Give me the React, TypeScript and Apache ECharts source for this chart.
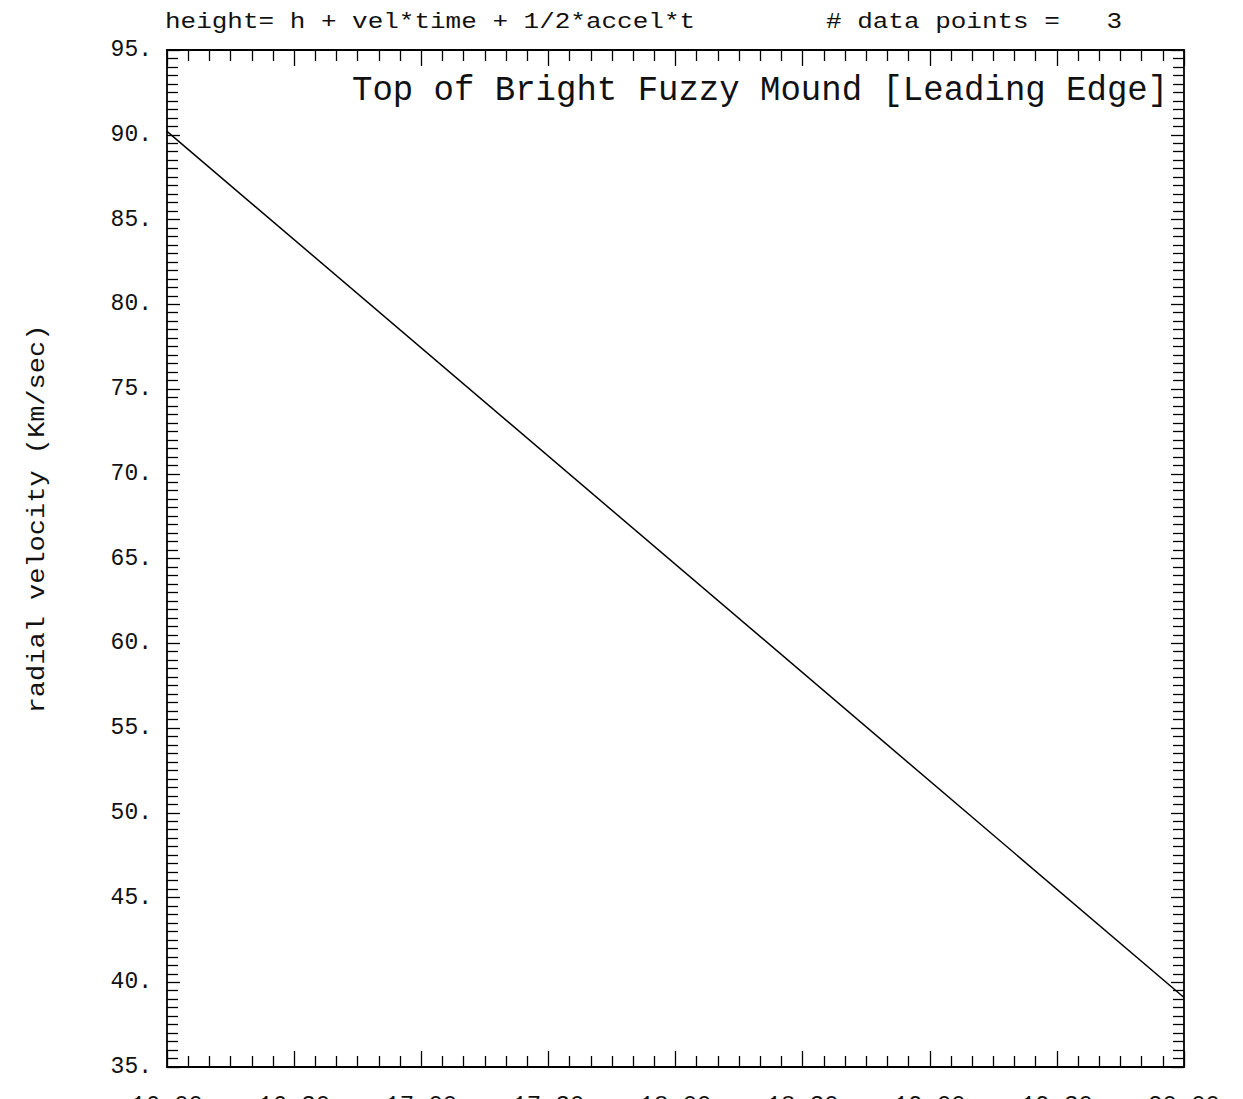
import React, { useEffect, useRef } from "react";
import * as echarts from "echarts";

// Tick labels along the time axis (minutes from start, one major tick every 30 min)
const timeTickLabels = ["16:00", "16:30", "17:00", "17:30", "18:00", "18:30", "19:00", "19:30", "20:00"];
// Fitted line (endpoints)
const fitTimes = [0, 240];
const fitVelocity = [90.2, 39.1];

const headerLeft = "height= h + vel*time + 1/2*accel*t";
const headerRight = "# data points =   3";
const plotTitle = "Top of Bright Fuzzy Mound [Leading Edge]";
const yAxisName = "radial velocity (Km/sec)";

const FONT = "Liberation Mono";
const INK = "#111";

export default function App() {
  const ref = useRef<HTMLDivElement>(null);
  useEffect(() => {
    if (!ref.current) return;
    const chart = echarts.init(ref.current, undefined, { renderer: "svg" });
    const xTicks = {
      axisLine: { show: true, onZero: false, lineStyle: { color: "#000", width: 1.8 } },
      axisTick: { show: true, inside: true, length: 16, lineStyle: { color: "#000", width: 1.3 } },
      minorTick: { show: true, splitNumber: 6, length: 11, lineStyle: { color: "#000", width: 1.3 } },
      splitLine: { show: false },
      minorSplitLine: { show: false },
    };
    const yTicks = {
      axisLine: { show: true, onZero: false, lineStyle: { color: "#000", width: 1.8 } },
      axisTick: { show: true, inside: true, length: 13, lineStyle: { color: "#000", width: 1.3 } },
      minorTick: { show: true, splitNumber: 10, length: 11, lineStyle: { color: "#000", width: 1.3 } },
      splitLine: { show: false },
      minorSplitLine: { show: false },
    };
    chart.setOption({
      animation: false,
      backgroundColor: "#fff",
      grid: {
        left: 167,
        right: 59,
        top: 50,
        bottom: 32,
        containLabel: false,
        outerBoundsMode: "none",
      },
      xAxis: [
        {
          type: "value",
          position: "bottom",
          min: 0,
          max: 240,
          interval: 30,
          ...xTicks,
          axisLabel: {
            show: true,
            margin: 26,
            fontFamily: FONT,
            fontSize: 24,
            color: INK,
            formatter: (v: number) => timeTickLabels[Math.round(v / 30)] ?? "",
          },
        },
        {
          type: "value",
          position: "top",
          min: 0,
          max: 240,
          interval: 30,
          ...xTicks,
          axisLabel: { show: false },
        },
      ],
      yAxis: [
        {
          type: "value",
          position: "left",
          min: 35,
          max: 95,
          interval: 5,
          ...yTicks,
          axisLabel: {
            show: true,
            margin: 15,
            fontFamily: FONT,
            fontSize: 23,
            color: INK,
            formatter: (v: number) => `${v}.`,
          },
        },
        {
          type: "value",
          position: "right",
          min: 35,
          max: 95,
          interval: 5,
          ...yTicks,
          axisLabel: { show: false },
        },
      ],
      series: [
        {
          type: "line",
          data: fitTimes.map((t, i) => [t, fitVelocity[i]]),
          showSymbol: false,
          lineStyle: { color: "#000", width: 1.5 },
          clip: true,
        },
      ],
      graphic: [
        {
          type: "text",
          x: 165,
          y: 33,
          scaleY: 0.85,
          style: { text: headerLeft, font: `26px '${FONT}'`, fill: INK, textVerticalAlign: "bottom" },
        },
        {
          type: "text",
          x: 826,
          y: 33,
          scaleY: 0.85,
          style: { text: headerRight, font: `26px '${FONT}'`, fill: INK, textVerticalAlign: "bottom" },
        },
        {
          type: "text",
          x: 352,
          y: 108,
          scaleY: 1.05,
          style: { text: plotTitle, font: `34px '${FONT}'`, fill: INK, textVerticalAlign: "bottom" },
        },
        {
          type: "text",
          x: 38,
          y: 519,
          rotation: Math.PI / 2,
          scaleY: 0.9,
          style: {
            text: yAxisName,
            font: `27px '${FONT}'`,
            fill: INK,
            textAlign: "center",
            textVerticalAlign: "middle",
          },
        },
      ],
    });
    return () => chart.dispose();
  }, []);
  return (
    <div
      ref={ref}
      style={{ position: "fixed", left: 0, top: 0, width: 1243, height: 1099, background: "#fff" }}
    />
  );
}
